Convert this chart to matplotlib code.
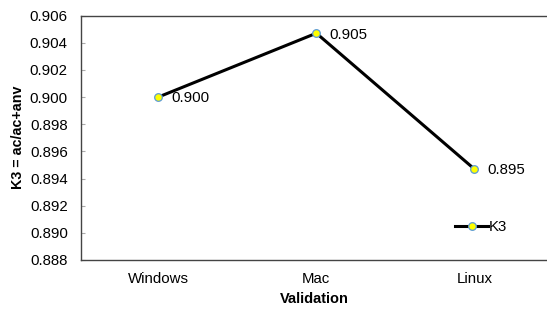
import matplotlib
matplotlib.use("Agg")
import matplotlib.pyplot as plt

categories = ["Windows", "Mac", "Linux"]
k3_values = [0.9000, 0.9047, 0.8947]
k3_labels = ["0.900", "0.905", "0.895"]
yticks = [0.888, 0.890, 0.892, 0.894, 0.896, 0.898, 0.900, 0.902, 0.904, 0.906]

plt.rcParams['font.family'] = ['Liberation Sans', 'DejaVu Sans']

fig = plt.figure(figsize=(5.47, 3.11), dpi=100)
ax = fig.add_axes([0.148, 0.164, 0.852, 0.786])
x = list(range(len(categories)))
ax.plot(x, k3_values, color='black', lw=2.2, marker='o', ms=5.5,
        mfc='#ffff00', mec='#5b9bd5', mew=0.9, label='K3', zorder=3)
for xi, v, lab in zip(x, k3_values, k3_labels):
    ax.annotate(lab, (xi, v), xytext=(9.5, -1), textcoords='offset points',
                ha='left', va='center', fontsize=10.8)

ax.set_xlim(-0.49, 2.46)
ax.set_ylim(0.888, 0.906)
ax.set_yticks(yticks)
ax.set_yticklabels([f"{t:.3f}" for t in yticks], fontsize=10.8)
ax.set_xticks(x)
ax.set_xticklabels(categories, fontsize=10.8)
ax.tick_params(axis='y', direction='in', length=3, color='#aaaaaa', pad=9.5)
ax.tick_params(axis='x', length=0, pad=9)
for s in ['left', 'top', 'bottom']:
    ax.spines[s].set_color('#444444')
    ax.spines[s].set_linewidth(1.0)
ax.spines['right'].set_visible(False)
ax.set_xlabel("Validation", fontweight='bold', fontsize=10.5, labelpad=4)
ax.set_ylabel("K3 = ac/ac+anv", fontweight='bold', fontsize=10.3, labelpad=3)
ax.legend(loc='lower right', bbox_to_anchor=(0.928, 0.082), frameon=False,
          fontsize=10.8, handlelength=2.2, handletextpad=0.05, borderaxespad=0)

fig.savefig("out.png", dpi=100)
